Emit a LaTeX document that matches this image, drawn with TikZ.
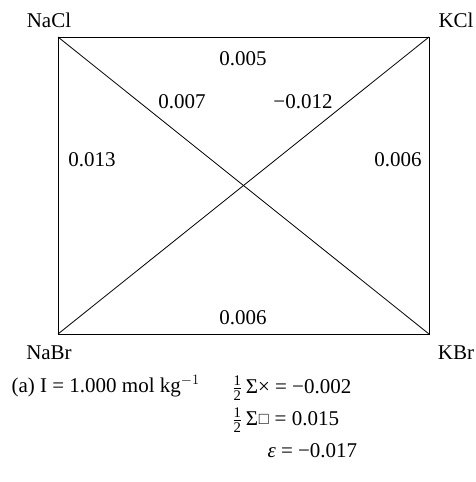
\documentclass[tikz,border=0pt]{standalone}
\usepackage{fontspec}
\usepackage{amsmath,amssymb}
\setmainfont{Liberation Serif}
\begin{document}
\begin{tikzpicture}[x=1pt,y=-1pt,font=\fontsize{21}{25}\selectfont]
\useasboundingbox (0,0) rectangle (475,482);
% corners of the square
\coordinate (NaCl) at (58,37);
\coordinate (KCl) at (429,37);
\coordinate (NaBr) at (58,334);
\coordinate (KBr) at (429,334);
\draw[line width=1pt](NaCl)--(KCl)--(KBr)--(NaBr)--cycle;
\draw[line width=.8pt](NaCl)--(KBr);
\draw[line width=.8pt](NaBr)--(KCl);
\node (lNaCl) at (49,20){NaCl};
\node (lKCl) at (456,20){KCl};
\node (lNaBr) at (49,353){NaBr};
\node (lKBr) at (456,353){KBr};
% pair values
\node (top) at (243,59){0.005};
\node (dNa) at (182,102){0.007};
\node (dK) at (303,102){\textminus 0.012};
\node (left) at (92,160){0.013};
\node (right) at (398,160){0.006};
\node (bot) at (243,318){0.006};
% summary
\node[anchor=west] (ion) at (8,386){(a) I = 1.000 mol kg$^{-1}$};
\node[anchor=west] (cross) at (229,388){$\frac{\text{1}}{\text{2}}$\,Σ×~=~\textminus 0.002};
\node[anchor=west] (sq) at (229,420){$\frac{\text{1}}{\text{2}}$\,Σ\raisebox{.1ex}{$\scriptstyle\square$}~=~0.015};
\node[anchor=west] (eps) at (264,451){\textit{ε}~=~\textminus 0.017};
\end{tikzpicture}
\end{document}
